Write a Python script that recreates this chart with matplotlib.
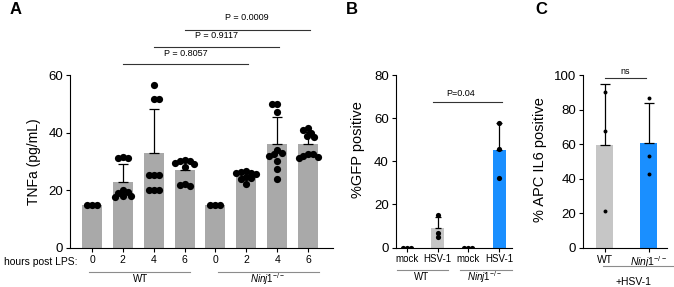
import numpy as np
import matplotlib
matplotlib.use('Agg')
import matplotlib.pyplot as plt
from matplotlib.lines import Line2D

plt.rcParams['font.family'] = ['Liberation Sans', 'DejaVu Sans']
plt.rcParams['mathtext.fontset'] = 'custom'
plt.rcParams['mathtext.rm'] = 'Liberation Sans'
plt.rcParams['mathtext.it'] = 'Liberation Sans:italic'

# ---- data ----
# panel A: TNFa (pg/mL) at hours post LPS, WT then Ninj1-/-
a_hours = ['0', '2', '4', '6', '0', '2', '4', '6']
a_points = [
    [15.0, 15.0, 15.0],
    [31.5, 31.0, 31.0, 20.0, 19.5, 19.0, 18.0, 18.0, 17.5],
    [56.6, 51.5, 51.5, 25.2, 25.2, 25.2, 20.2, 20.2, 20.2],
    [30.5, 30.0, 30.0, 29.5, 29.0, 28.0, 22.0, 21.7, 21.5],
    [15.0, 15.0, 15.0],
    [26.5, 26.3, 26.0, 25.8, 25.5, 24.5, 24.2, 23.8, 22.0],
    [50.0, 50.0, 47.2, 33.8, 32.8, 32.5, 31.8, 30.0, 27.5, 24.0],
    [41.5, 40.8, 40.0, 38.8, 38.5, 32.5, 32.5, 32.0, 31.5, 31.0],
]
a_pvals = ['P = 0.8057', 'P = 0.9117', 'P = 0.0009']

# panel B: %GFP positive
b_labels = ['mock', 'HSV-1', 'mock', 'HSV-1']
b_points = [
    [0.0, 0.0, 0.0],
    [15.1, 6.7, 4.8],
    [0.0, 0.0, 0.0],
    [57.6, 45.6, 32.4],
]
b_pval = 'P=0.04'

# panel C: % APC IL6 positive (+HSV-1)
c_points = [
    [90.0, 67.7, 21.2],
    [86.9, 53.3, 42.5],
]
c_sig = 'ns'

GRAY_A = '#a9a9a9'
GRAY_LIGHT = '#c6c6c6'
BLUE = '#1a8fff'
LINE_GRAY = '#8c8c8c'
KO = r'$\mathit{Ninj1}^{-/-}$'

W, H = 674, 287
fig = plt.figure(figsize=(W / 100, H / 100), dpi=100)


def px_axes(x0, y_top, x1, y_bot):
    return fig.add_axes([x0 / W, 1 - y_bot / H, (x1 - x0) / W, (y_bot - y_top) / H])


def fig_text(x, y, s, **kw):
    fig.text(x / W, 1 - y / H, s, **kw)


def fig_line(x0, x1, y, color=LINE_GRAY, lw=0.8):
    fig.add_artist(Line2D([x0 / W, x1 / W], [1 - y / H] * 2,
                          transform=fig.transFigure, color=color, lw=lw))


def swarm(vals, xpx, ypx, dmin):
    # simple beeswarm: push points sideways until they stop overlapping
    vals = np.asarray(vals, float)
    offs = np.zeros(len(vals))
    placed = []
    for n, i in enumerate(np.argsort(-vals, kind='stable')):
        y = vals[i] * ypx
        x = 0.0
        side = 1 if n % 2 == 0 else -1
        for k in range(200):
            cands = [0.0] if k == 0 else [side * k * 0.5, -side * k * 0.5]
            ok = None
            for c in cands:
                if all((c - px) ** 2 + (y - py) ** 2 >= dmin ** 2 for px, py in placed):
                    ok = c
                    break
            if ok is not None:
                x = ok
                break
        placed.append((x, y))
        offs[i] = x / xpx
    return offs


def style_axes(ax):
    for s in ('top', 'right'):
        ax.spines[s].set_visible(False)
    for s in ('left', 'bottom'):
        ax.spines[s].set_linewidth(0.8)
    ax.tick_params(length=3, width=0.8, pad=2)


def draw_group(ax, x, pts, color, width, xpx, ypx, dmin, msize, capsize):
    pts = np.asarray(pts, float)
    m = pts.mean()
    sd = pts.std(ddof=1)
    ax.bar(x, m, width=width, color=color, zorder=1)
    if sd > 0:
        ax.errorbar(x, m, yerr=[[0], [sd]], fmt='none', ecolor='black',
                    elinewidth=0.9, capsize=capsize, capthick=0.9, zorder=2)
    offs = swarm(pts, xpx, ypx, dmin)
    ax.scatter(x + offs, pts, s=msize, color='black', zorder=3, linewidths=0)


# ---- panel A ----
axA = px_axes(70, 75, 333, 247.7)
style_axes(axA)
axA.set_ylim(0, 60)
axA.set_xlim(-0.713, 7.81)
xA = np.arange(len(a_points))
for i, pts in enumerate(a_points):
    draw_group(axA, xA[i], pts, GRAY_A, 0.65, 30.86, 2.885, 5.0, 27, 3.8)
axA.set_yticks([0, 20, 40, 60])
axA.set_xticks(xA)
axA.set_xticklabels(a_hours, fontsize=7.5)
axA.tick_params(axis='y', labelsize=9.5)
axA.set_ylabel('TNFa (pg/mL)', fontsize=10)
axA.yaxis.set_label_coords(-0.111, 0.5)
for k, (txt, ly, ty) in enumerate(zip(a_pvals, [63.7, 69.9, 75.8], [66.0, 72.3, 78.5])):
    x0, x1 = xA[1 + k], xA[5 + k] + 0.05
    axA.plot([x0, x1], [ly, ly], color='#333333', lw=0.8, clip_on=False)
    axA.text((x0 + x1) / 2, ty, txt, ha='center', va='bottom', fontsize=6.5)
fig_text(77, 261.7, 'hours post LPS:', ha='right', va='center', fontsize=7.5)
fig_line(89, 190, 272.3)
fig_line(218, 319, 272.3)
fig_text(141, 279, 'WT', ha='center', va='center', fontsize=7)
fig_text(267, 279, KO, ha='center', va='center', fontsize=7)

# ---- panel B ----
axB = px_axes(395.7, 75, 511.7, 247.5)
style_axes(axB)
axB.set_ylim(0, 80)
axB.set_xlim(-0.356, 3.40)
xB = np.arange(len(b_points))
b_colors = [GRAY_LIGHT, GRAY_LIGHT, GRAY_LIGHT, BLUE]
for i, pts in enumerate(b_points):
    draw_group(axB, xB[i], pts, b_colors[i], 0.43, 30.87, 2.156, 3.6, 14, 2.5)
axB.set_yticks([0, 20, 40, 60, 80])
axB.set_xticks(xB)
axB.set_xticklabels(b_labels, fontsize=7)
axB.tick_params(axis='y', labelsize=9.5)
axB.set_ylabel('%GFP positive', fontsize=10.5)
axB.yaxis.set_label_coords(-0.265, 0.569)
axB.plot([0.84, 3.07], [67.7, 67.7], color='#333333', lw=0.8, clip_on=False)
axB.text(1.74, 69.3, b_pval, ha='center', va='bottom', fontsize=6.5)
fig_line(396.7, 448.3, 269.5)
fig_line(460, 511.7, 269.5)
fig_text(422, 277, 'WT', ha='center', va='center', fontsize=7)
fig_text(484, 277, KO, ha='center', va='center', fontsize=7)

# ---- panel C ----
axC = px_axes(583, 75, 667, 247.7)
style_axes(axC)
axC.set_ylim(0, 100)
axC.set_xlim(-0.49, 1.42)
xC = np.arange(len(c_points))
c_colors = [GRAY_LIGHT, BLUE]
for i, pts in enumerate(c_points):
    draw_group(axC, xC[i], pts, c_colors[i], 0.39, 44.0, 1.727, 3.0, 8, 3.8)
axC.set_yticks([0, 20, 40, 60, 80, 100])
axC.set_xticks(xC)
axC.set_xticklabels(['WT', KO], fontsize=7.5)
axC.tick_params(axis='y', labelsize=9.5)
axC.set_ylabel('% APC IL6 positive', fontsize=10.5)
axC.yaxis.set_label_coords(-0.425, 0.513)
axC.plot([0.02, 0.95], [98.4, 98.4], color='#333333', lw=0.8, clip_on=False)
axC.text(0.47, 99.5, c_sig, ha='center', va='bottom', fontsize=6.5)
fig_line(603, 673, 266)
fig_text(634, 282, '+HSV-1', ha='center', va='center', fontsize=7.5)

# ---- panel letters ----
for x, s in [(16, 'A'), (352, 'B'), (541, 'C')]:
    fig_text(x, 9, s, ha='center', va='center', fontsize=12, fontweight='bold')

fig.savefig('out.png', dpi=100)
